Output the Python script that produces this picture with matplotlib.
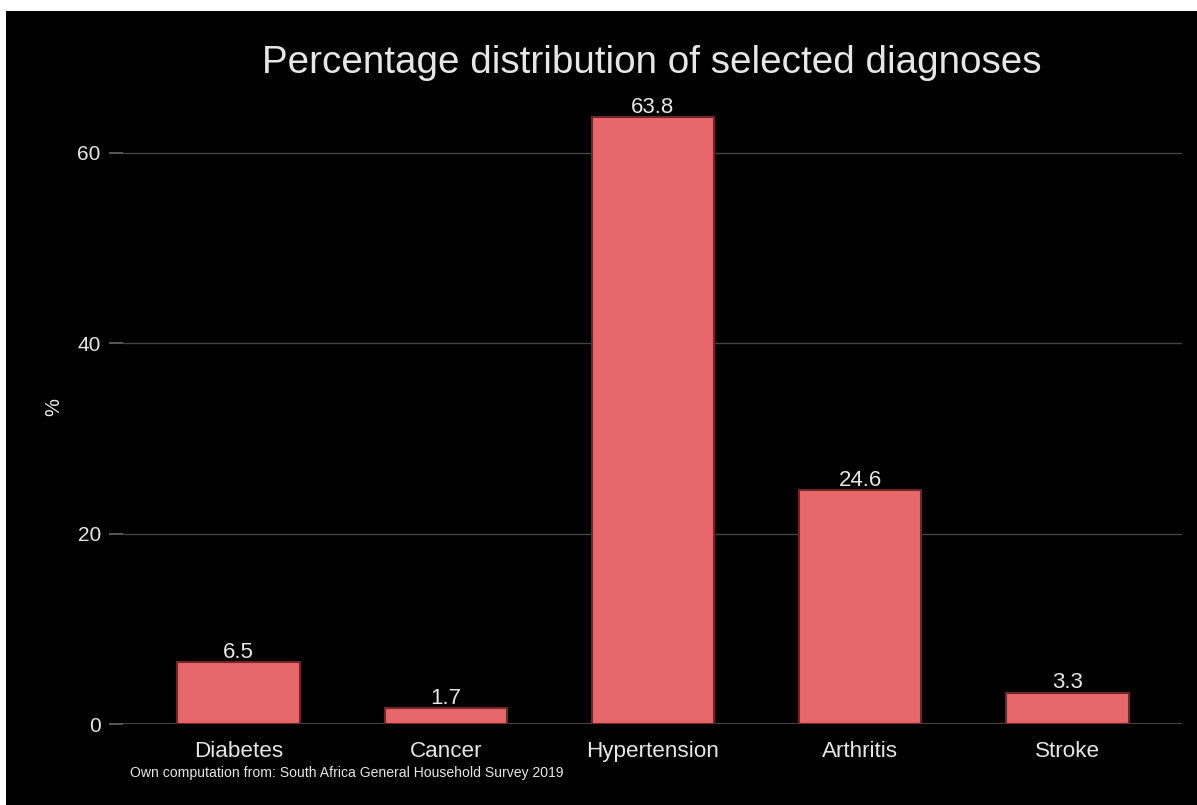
import matplotlib
matplotlib.use("Agg")
import matplotlib.pyplot as plt
from matplotlib.patches import Rectangle

categories = ["Diabetes", "Cancer", "Hypertension", "Arthritis", "Stroke"]
values = [6.5, 1.7, 63.8, 24.6, 3.3]
yticks = [0, 20, 40, 60]
title = "Percentage distribution of selected diagnoses"
source = "Own computation from: South Africa General Household Survey 2019"

W, H = 1197, 805
fig = plt.figure(figsize=(W / 100, H / 100), dpi=100, facecolor="white")
fig.patches.append(Rectangle((6 / W, 0), 1 - 6 / W, (H - 11) / H,
                             transform=fig.transFigure, facecolor="black",
                             edgecolor="none", zorder=-10))

plt.rcParams["font.family"] = ["Liberation Sans", "DejaVu Sans"]
txt = "#e6e6e6"

ax = fig.add_axes([123 / W, (H - 724) / H, (1182 - 123) / W, (724 - 85) / H])
ax.set_facecolor("black")
x = list(range(len(categories)))
ax.bar(x, values, width=0.59, color="#e8676a", edgecolor="#6e2628",
       linewidth=1.5, zorder=3)
for xi, v in zip(x, values):
    ax.text(xi, v + 0.45, f"{v:.1f}", ha="center", va="baseline",
            fontsize=16, color=txt, zorder=4)

ax.set_xlim(-0.557, 4.553)
ax.set_ylim(0, 67.14)
ax.set_yticks(yticks)
ax.set_yticklabels([str(t) for t in yticks])
ax.set_xticks(x)
ax.set_xticklabels(categories)
ax.tick_params(axis="y", colors="#666666", labelcolor=txt, labelsize=15,
               length=10, width=1.2, pad=6)
ax.tick_params(axis="x", length=0, labelcolor=txt, labelsize=16.2, pad=12)
ax.grid(axis="y", color="#444444", linewidth=1, zorder=0)
ax.axhline(0, color="#444444", linewidth=1.5, zorder=1)
for s in ax.spines.values():
    s.set_visible(False)

fig.text(54 / W, 1 - 407 / H, "%", rotation=90, ha="center", va="center",
         fontsize=14.5, color=txt)

fig.text(652 / W, 1 - 63 / H, title, ha="center", va="center",
         fontsize=27.8, color=txt)

fig.text(130 / W, 1 - 773 / H, source, ha="left", va="center",
         fontsize=10.1, color=txt)

fig.savefig("out.png", dpi=100, facecolor=fig.get_facecolor())
